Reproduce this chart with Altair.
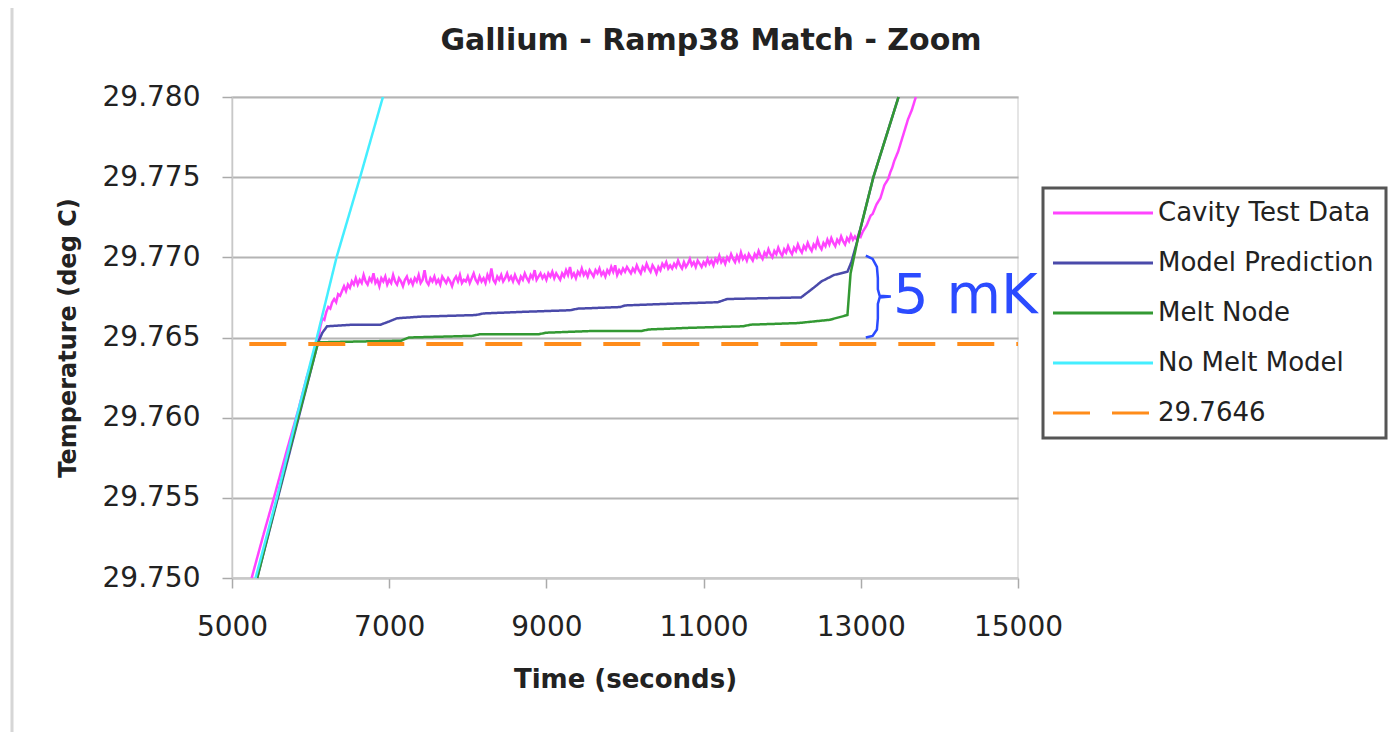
import altair as alt
import pandas as pd

# ---------------- data ----------------
series_names = ["Cavity Test Data", "Model Prediction", "Melt Node", "No Melt Model", "29.7646"]
series_colors = ["#ff44ff", "#4a4aaa", "#339933", "#44eeff", "#ff8c1a"]
series_dashes = [[1, 0], [1, 0], [1, 0], [1, 0], [37, 22]]
series_widths = [2.5, 2.5, 2.5, 2.5, 4]

x_ticks = [5000, 7000, 9000, 11000, 13000, 15000]
y_ticks = [29.750, 29.755, 29.760, 29.765, 29.770, 29.775, 29.780]

# Cavity Test Data (noisy measured trace)
cavity_rise_t = [5250, 5400, 5550, 5700, 5850, 5950, 6050]
cavity_rise_y = [29.7500, 29.7527, 29.7553, 29.7580, 29.7606, 29.7625, 29.7641]
cavity_plateau_t = list(range(6100, 13725, 25))
cavity_plateau_y = [
    29.7650, 29.7657, 29.7662, 29.7661, 29.7666, 29.7669, 29.7668, 29.7672, 29.7674, 29.7672,
    29.7677, 29.7676, 29.7679, 29.7682, 29.7679, 29.7683, 29.7681, 29.7685, 29.7683, 29.7687,
    29.7683, 29.7686, 29.7684, 29.7689, 29.7685, 29.7683, 29.7687, 29.7685, 29.7690, 29.7684,
    29.7686, 29.7682, 29.7687, 29.7685, 29.7688, 29.7683, 29.7686, 29.7684, 29.7689, 29.7685,
    29.7683, 29.7687, 29.7685, 29.7682, 29.7686, 29.7688, 29.7684, 29.7686, 29.7683, 29.7687,
    29.7685, 29.7689, 29.7684, 29.7686, 29.7692, 29.7685, 29.7683, 29.7687, 29.7685, 29.7688,
    29.7684, 29.7686, 29.7683, 29.7688, 29.7686, 29.7684, 29.7687, 29.7685, 29.7682, 29.7686,
    29.7688, 29.7685, 29.7689, 29.7684, 29.7686, 29.7685, 29.7688, 29.7684, 29.7687, 29.7690,
    29.7686, 29.7684, 29.7688, 29.7685, 29.7687, 29.7684, 29.7689, 29.7686, 29.7693, 29.7686,
    29.7684, 29.7688, 29.7686, 29.7689, 29.7685, 29.7687, 29.7690, 29.7686, 29.7688, 29.7685,
    29.7689, 29.7686, 29.7684, 29.7688, 29.7686, 29.7690, 29.7687, 29.7685, 29.7689, 29.7687,
    29.7692, 29.7686, 29.7688, 29.7690, 29.7687, 29.7689, 29.7686, 29.7690, 29.7688, 29.7691,
    29.7687, 29.7690, 29.7688, 29.7686, 29.7690, 29.7688, 29.7692, 29.7689, 29.7694, 29.7688,
    29.7690, 29.7687, 29.7691, 29.7689, 29.7693, 29.7689, 29.7691, 29.7688, 29.7692, 29.7690,
    29.7688, 29.7692, 29.7690, 29.7693, 29.7689, 29.7691, 29.7688, 29.7692, 29.7690, 29.7694,
    29.7691, 29.7695, 29.7689, 29.7692, 29.7690, 29.7693, 29.7691, 29.7694, 29.7692, 29.7690,
    29.7693, 29.7691, 29.7695, 29.7692, 29.7690, 29.7694, 29.7692, 29.7696, 29.7693, 29.7691,
    29.7695, 29.7693, 29.7690, 29.7694, 29.7692, 29.7696, 29.7694, 29.7697, 29.7693, 29.7695,
    29.7693, 29.7696, 29.7694, 29.7698, 29.7695, 29.7693, 29.7697, 29.7694, 29.7696, 29.7699,
    29.7695, 29.7697, 29.7694, 29.7698, 29.7696, 29.7694, 29.7697, 29.7695, 29.7699, 29.7696,
    29.7698, 29.7695, 29.7699, 29.7697, 29.7701, 29.7697, 29.7699, 29.7696, 29.7700, 29.7698,
    29.7702, 29.7699, 29.7697, 29.7701, 29.7698, 29.7703, 29.7699, 29.7701, 29.7698, 29.7702,
    29.7700, 29.7698, 29.7702, 29.7700, 29.7704, 29.7701, 29.7699, 29.7703, 29.7701, 29.7705,
    29.7702, 29.7700, 29.7704, 29.7702, 29.7706, 29.7703, 29.7701, 29.7705, 29.7703, 29.7707,
    29.7704, 29.7702, 29.7706, 29.7704, 29.7708, 29.7705, 29.7703, 29.7707, 29.7705, 29.7709,
    29.7706, 29.7704, 29.7708, 29.7706, 29.7711, 29.7707, 29.7705, 29.7709, 29.7707, 29.7711,
    29.7708, 29.7712, 29.7709, 29.7707, 29.7711, 29.7709, 29.7713, 29.7710, 29.7708, 29.7712,
    29.7710, 29.7714, 29.7711, 29.7713, 29.7711, 29.7715, 29.7713, 29.7716, 29.7718, 29.7720,
    29.7723, 29.7726, 29.7727, 29.7730, 29.7733, 29.7735, 29.7737, 29.7741, 29.7745, 29.7747,
    29.7749, 29.7753, 29.7756, 29.7760, 29.7763, 29.7766, 29.7770, 29.7774, 29.7778, 29.7782,
    29.7786, 29.7789, 29.7792, 29.7796, 29.7800,
]

# Model Prediction
model_t = [5320, 6095, 6150, 6210, 6540, 6890, 7000, 7100, 7400, 8100, 8200, 8700, 9300, 9400,
           9940, 10000, 10540, 11180, 11300, 12240, 12400, 12500, 12660, 12830, 12880, 12960,
           13160, 13480]
model_y = [29.7500, 29.7647, 29.7653, 29.7657, 29.7658, 29.7658, 29.7660, 29.7662, 29.7663,
           29.7664, 29.7665, 29.7666, 29.7667, 29.7668, 29.7669, 29.7670, 29.7671, 29.7672,
           29.7674, 29.7675, 29.7681, 29.7685, 29.7689, 29.7691, 29.7697, 29.7711, 29.7750,
           29.7800]

# Melt Node
melt_t = [5320, 5700, 6095, 7150, 7250, 8050, 8150, 8900, 9000, 9550, 10200, 10300, 10800,
          11500, 11600, 12200, 12600, 12830, 12870, 12960, 13160, 13480]
melt_y = [29.7500, 29.7574, 29.7647, 29.7648, 29.7650, 29.7651, 29.7652, 29.7652, 29.7653,
          29.7654, 29.7654, 29.7655, 29.7656, 29.7657, 29.7658, 29.7659, 29.7661, 29.7664,
          29.7690, 29.7711, 29.7750, 29.7800]

# No Melt Model
nomelt_t = [5300, 5570, 5820, 6080, 6330, 6630, 6920]
nomelt_y = [29.750, 29.755, 29.760, 29.765, 29.770, 29.775, 29.780]

# 29.7646 reference level
ref_t = [5220, 15000]
ref_y = [29.7646, 29.7646]

# "5 mK" brace annotation
brace_t = [13064, 13150, 13205, 13217, 13217, 13240, 13382, 13240, 13217, 13217, 13205, 13150, 13064]
brace_y = [29.7701, 29.7699, 29.7694, 29.7687, 29.7680, 29.7676, 29.76755, 29.7675, 29.7671,
           29.7662, 29.7655, 29.7651, 29.7650]
note_t = [13410]
note_y = [29.76650]
note_text = ["5 mK"]

# ---------------- build tables ----------------
rows = []
def add(name, ts, ys):
    for i, (t, y) in enumerate(zip(ts, ys)):
        rows.append({"series": name, "t": t, "y": y, "i": i})

add("Cavity Test Data", cavity_rise_t + cavity_plateau_t, cavity_rise_y + cavity_plateau_y)
add("Model Prediction", model_t, model_y)
add("Melt Node", melt_t, melt_y)
add("No Melt Model", nomelt_t, nomelt_y)
add("29.7646", ref_t, ref_y)
df = pd.DataFrame(rows)

brace_df = pd.DataFrame({"t": brace_t, "y": brace_y, "i": list(range(len(brace_t)))})
note_df = pd.DataFrame({"t": note_t, "y": note_y, "label": note_text})

FONT = "DejaVu Sans"

legend = alt.Legend(
    title=None, orient="none", legendX=811, legendY=91,
    symbolType="M-1.5,0H8.5", symbolSize=400, symbolStrokeWidth=3,
    labelFontSize=26, labelFont=FONT, labelColor="#222222", labelLimit=600,
    labelOffset=77, rowPadding=24, padding=12,
    strokeColor="#555555", fillColor="white",
)

x_enc = alt.X("t:Q", scale=alt.Scale(domain=[5000, 15000], nice=False),
              axis=alt.Axis(values=x_ticks, format="d", title="Time (seconds)", grid=False,
                            labelFlush=False, labelOverlap=False))
y_enc = alt.Y("y:Q", scale=alt.Scale(domain=[29.750, 29.780], nice=False, zero=False),
              axis=alt.Axis(values=y_ticks, format=".3f", title="Temperature (deg C)", grid=True,
                            labelOverlap=False))
color_enc = alt.Color("series:N", scale=alt.Scale(domain=series_names, range=series_colors), legend=legend)
dash_enc = alt.StrokeDash("series:N", scale=alt.Scale(domain=series_names, range=series_dashes), legend=legend)

base = alt.Chart(df).encode(x=x_enc, y=y_enc, color=color_enc, strokeDash=dash_enc, order=alt.Order("i:Q"))

layers = []
for name, w in zip(series_names, series_widths):
    layers.append(base.transform_filter(alt.datum.series == name).mark_line(strokeWidth=w))

brace = alt.Chart(brace_df).mark_line(color="#2b4bff", strokeWidth=2.5).encode(
    x="t:Q", y="y:Q", order="i:Q")
note = alt.Chart(note_df).mark_text(align="left", baseline="alphabetic", fontSize=56,
                                    font=FONT, color="#2b4bff").encode(x="t:Q", y="y:Q", text="label:N")
border = alt.Chart(pd.DataFrame({"a": [0]})).mark_rule(color="#d6d6d6", strokeWidth=3).encode(
    x=alt.value(-220), y=alt.value(-89), y2=alt.value(640))

chart = alt.layer(*layers, brace, note, border).properties(
    width=786, height=481,
    title=alt.TitleParams("Gallium - Ramp38 Match - Zoom", font=FONT, fontSize=30, fontWeight="bold",
                          color="#222222", anchor="middle", dx=86, offset=-49.5),
    autosize=alt.AutoSizeParams(type="none"),
    padding={"left": 232, "top": 97, "right": 378, "bottom": 154},
).configure_view(
    stroke="#dddddd", strokeWidth=1.5
).configure_axis(
    labelFont=FONT, labelFontSize=28, labelColor="#222222",
    titleFont=FONT, titleFontWeight="bold", titleColor="#222222",
    domainColor="#c8c8c8", domainWidth=1.5, tickColor="#aaaaaa", tickSize=10, tickWidth=1.5,
    gridColor="#b4b4b4", gridWidth=2,
).configure_axisX(
    titleFontSize=26, labelPadding=25, titlePadding=25,
).configure_axisY(
    titleFontSize=24, labelPadding=22, titlePadding=22,
).configure_legend(
    strokeWidth=3,
)

chart.save("out.html", embed_options={"renderer": "svg", "actions": False})
